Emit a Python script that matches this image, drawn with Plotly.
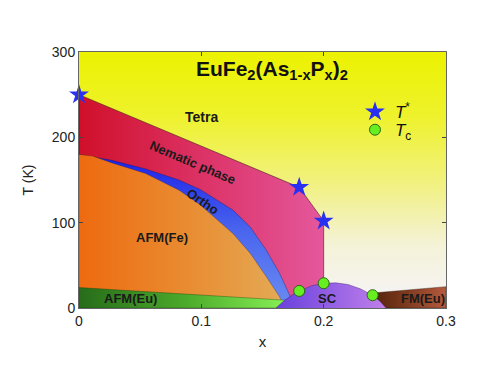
import plotly.graph_objects as go

# phase boundaries (x = P content, T in K)
tstar_x = [0, 0.18, 0.2]
tstar_T = [250, 141.5, 102]

tc_x = [0.18, 0.2, 0.24]
tc_T = [20, 29, 15]

struct_x = [0, 0.027, 0.0545, 0.0818, 0.099, 0.126, 0.14, 0.153, 0.164, 0.1725, 0.177]
struct_T = [180, 173, 163, 150, 139, 114.6, 95, 68, 40.6, 15, 0]

afmfe_x = [0, 0.011, 0.027, 0.0545, 0.0818, 0.099, 0.126, 0.14, 0.153, 0.164, 0.168]
afmfe_T = [180, 178, 170, 157.5, 138, 121, 87, 64, 37, 13, 0]

afmeu_x = [0, 0.17]
afmeu_T = [24, 9]

sc_x = [0.161, 0.168, 0.175, 0.18, 0.19, 0.2, 0.21, 0.22, 0.23, 0.24, 0.246, 0.251]
sc_T = [0, 9, 16, 20, 26, 29, 29.5, 27.5, 22.5, 15, 8, 0]

fmeu_x = [0.235, 0.3]
fmeu_T = [17, 25]

x_range = [0, 0.3]
T_range = [0, 300]

FONT = 'Liberation Sans'


def region(xs, ys, colors, kind='horizontal', line_color='rgba(0,0,0,0)', lw=0):
    scale = [[i / (len(colors) - 1), c] for i, c in enumerate(colors)]
    return go.Scatter(x=xs, y=ys, mode='lines', fill='toself',
                      fillgradient=dict(type=kind, colorscale=scale),
                      line=dict(color=line_color, width=lw),
                      hoverinfo='skip', showlegend=False)


fig = go.Figure()

# Tetra background
fig.add_trace(region([x_range[0], x_range[1], x_range[1], x_range[0], x_range[0]],
                     [T_range[0], T_range[0], T_range[1], T_range[1], T_range[0]],
                     ['#f6f4fa', '#f4f2d6', '#f1f17c', '#eef22c', '#ecf200'], 'vertical'))

# nematic
fig.add_trace(region(tstar_x + [tstar_x[-1], 0, 0], tstar_T + [0, 0, tstar_T[0]],
                     ['#d0102a', '#dc3266', '#e4589c'], line_color='rgba(60,10,20,0.7)', lw=0.8))
# ortho
fig.add_trace(region(struct_x + [0, 0], struct_T + [0, struct_T[0]],
                     ['#6a8cf2', '#4a66ee', '#1a1ee6'], 'vertical', line_color='rgba(20,20,80,0.6)', lw=0.6))
# AFM(Fe)
fig.add_trace(region(afmfe_x + [0, 0], afmfe_T + [0, afmfe_T[0]],
                     ['#ee6a10', '#e98a30', '#e4aa55'], line_color='rgba(80,40,10,0.5)', lw=0.6))
# AFM(Eu)
fig.add_trace(region([0] + afmeu_x + [afmeu_x[-1], 0], [0] + afmeu_T + [0, 0],
                     ['#276c1a', '#4aa82a', '#88f055'], line_color='rgba(20,60,10,0.6)', lw=0.6))
# FM(Eu)
fig.add_trace(region(fmeu_x + [fmeu_x[-1], fmeu_x[0]], fmeu_T + [0, 0],
                     ['#4a1e06', '#7e3a1e', '#b55a3e'], line_color='rgba(40,20,10,0.6)', lw=0.6))
# SC dome
fig.add_trace(region(sc_x, sc_T, ['#6840dc', '#9460e4', '#c080ea'],
                     line_color='rgba(50,20,90,0.6)', lw=0.6))

fig.add_trace(go.Scatter(x=tstar_x, y=tstar_T, mode='markers', name='<i>T</i><sup>*</sup>',
                         marker=dict(symbol='star', size=15, color='#2a30f0', line=dict(width=0)),
                         cliponaxis=False, hoverinfo='skip', legend='legend'))
fig.add_trace(go.Scatter(x=tc_x, y=tc_T, mode='markers', name='<i>T</i><sub>c</sub>',
                         marker=dict(symbol='circle', size=11, color='#66ee22',
                                     line=dict(width=1, color='#2a6a10')),
                         cliponaxis=False, hoverinfo='skip', legend='legend2'))

labels = [
    ('Tetra', 0.0998, 224, 14, 0),
    ('Nematic phase', 0.093, 171, 13, 23),
    ('Ortho', 0.101, 125, 13, 34),
    ('AFM(Fe)', 0.068, 83, 13, 0),
    ('AFM(Eu)', 0.042, 11.5, 13, 0),
    ('SC', 0.203, 11.5, 13, 0),
    ('FM(Eu)', 0.281, 11.5, 13, 0),
]
for txt, lx, ly, fs, ang in labels:
    fig.add_annotation(x=lx, y=ly, text=f'<b>{txt}</b>', showarrow=False, textangle=ang,
                       font=dict(family=FONT, size=fs, color='#1a1a1a'))

fig.add_annotation(x=0.526, y=0.99, xref='paper', yref='paper', showarrow=False,
                   text='<b>EuFe<sub>2</sub>(As<sub>1-x</sub>P<sub>x</sub>)<sub>2</sub></b>',
                   font=dict(family=FONT, size=21, color='#111'))

leg = dict(xanchor='left', yanchor='top', bgcolor='rgba(0,0,0,0)',
           font=dict(family=FONT, size=17, color='#111'))
fig.update_layout(
    width=491, height=368, margin=dict(l=71, r=53, t=44, b=68),
    paper_bgcolor='white', plot_bgcolor='white',
    font=dict(family=FONT, color='#222', size=14),
    legend=dict(x=0.752, y=0.835, **leg),
    legend2=dict(x=0.752, y=0.765, **leg),
    xaxis=dict(range=x_range, dtick=0.1, tickformat='.1~f', ticks='inside', ticklen=4,
               showline=True, linecolor='#666', linewidth=1, mirror='ticks', showgrid=False,
               zeroline=False, title=dict(text='x', font=dict(size=15), standoff=8),
               tickfont=dict(size=14)),
    yaxis=dict(range=T_range, dtick=100, ticks='inside', ticklen=4,
               showline=True, linecolor='#666', linewidth=1, mirror='ticks', showgrid=False,
               zeroline=False, title=dict(text='T (K)', font=dict(size=14), standoff=14),
               tickfont=dict(size=14)),
)

fig.write_html('out.html')
